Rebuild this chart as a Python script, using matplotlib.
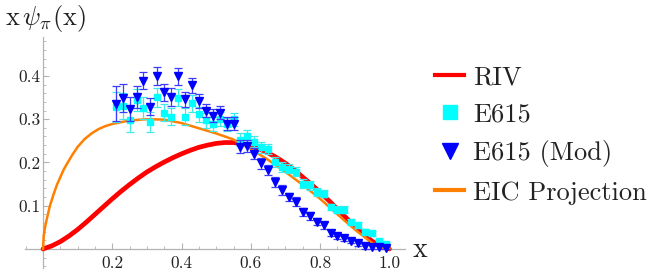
import matplotlib
matplotlib.use("Agg")
import matplotlib.pyplot as plt
from matplotlib.lines import Line2D
from matplotlib.ticker import MultipleLocator, FixedLocator, FuncFormatter

plt.rcParams['mathtext.fontset'] = 'cm'
plt.rcParams['font.family'] = ['cmr10', 'DejaVu Serif']
plt.rcParams['axes.formatter.use_mathtext'] = True

# ---- data ----
x_e615 = [0.21, 0.23, 0.25, 0.27, 0.29, 0.31, 0.33, 0.35, 0.37, 0.39,
          0.41, 0.43, 0.45, 0.47, 0.49, 0.51, 0.53, 0.55, 0.57, 0.59,
          0.61, 0.63, 0.65, 0.67, 0.69, 0.71, 0.73, 0.75, 0.77, 0.79,
          0.81, 0.83, 0.85, 0.87, 0.89, 0.91, 0.93, 0.95, 0.97, 0.99]
y_e615 = [0.329, 0.331, 0.299, 0.345, 0.326, 0.293, 0.351, 0.315, 0.306, 0.350,
          0.306, 0.337, 0.311, 0.297, 0.289, 0.301, 0.288, 0.300, 0.253, 0.262,
          0.248, 0.235, 0.231, 0.201, 0.190, 0.186, 0.179, 0.151, 0.147, 0.132,
          0.128, 0.097, 0.091, 0.091, 0.063, 0.055, 0.040, 0.036, 0.019, 0.012]
err_e615 = [0.035, 0.030, 0.028, 0.025, 0.025, 0.023, 0.022, 0.020, 0.020, 0.020,
            0.020, 0.020, 0.018, 0.018, 0.016, 0.016, 0.015, 0.015, 0.015, 0.014,
            0.013, 0.013, 0.012, 0.012, 0.011, 0.011, 0.010, 0.010, 0.010, 0.009,
            0.009, 0.008, 0.008, 0.008, 0.007, 0.007, 0.006, 0.006, 0.005, 0.005]
y_mod = [0.336, 0.349, 0.324, 0.351, 0.389, 0.329, 0.400, 0.362, 0.351, 0.399,
         0.346, 0.378, 0.343, 0.320, 0.308, 0.315, 0.289, 0.290, 0.236, 0.238,
         0.220, 0.198, 0.182, 0.155, 0.136, 0.120, 0.109, 0.086, 0.076, 0.063,
         0.055, 0.038, 0.030, 0.025, 0.019, 0.013, 0.006, 0.005, 0.004, 0.003]
err_mod = [0.040, 0.033, 0.028, 0.025, 0.020, 0.020, 0.020, 0.020, 0.020, 0.020,
           0.018, 0.018, 0.016, 0.016, 0.015, 0.015, 0.015, 0.015, 0.015, 0.014,
           0.013, 0.012, 0.012, 0.011, 0.011, 0.010, 0.010, 0.009, 0.009, 0.008,
           0.008, 0.007, 0.007, 0.006, 0.006, 0.005, 0.005, 0.004, 0.004, 0.004]

x_riv = [0.0, 0.025, 0.05, 0.075, 0.1, 0.125, 0.15, 0.175, 0.2, 0.225, 0.25,
         0.275, 0.3, 0.325, 0.35, 0.375, 0.4, 0.425, 0.45, 0.475, 0.5, 0.525,
         0.55, 0.575, 0.6, 0.625, 0.65, 0.675, 0.7, 0.725, 0.75, 0.775, 0.8,
         0.825, 0.85, 0.875, 0.9, 0.925, 0.95, 0.975, 1.0]
y_riv = [0.0, 0.007, 0.017, 0.030, 0.045, 0.062, 0.080, 0.098, 0.116, 0.133, 0.149,
         0.164, 0.178, 0.190, 0.201, 0.211, 0.220, 0.228, 0.235, 0.240, 0.244, 0.246,
         0.246, 0.243, 0.238, 0.231, 0.222, 0.211, 0.198, 0.183, 0.166, 0.149, 0.131,
         0.112, 0.092, 0.072, 0.052, 0.034, 0.018, 0.006, 0.0]

x_eic = [0.0, 0.002, 0.006, 0.01, 0.02, 0.03, 0.04, 0.05, 0.06, 0.07, 0.085,
         0.1, 0.12, 0.14, 0.16, 0.18, 0.2, 0.25, 0.3, 0.35, 0.4, 0.45, 0.5,
         0.55, 0.6, 0.65, 0.7, 0.75, 0.8, 0.85, 0.9, 0.95, 0.975, 1.0]
y_eic = [0.0, 0.030, 0.051, 0.066, 0.100, 0.125, 0.148, 0.166, 0.184, 0.198, 0.218,
         0.236, 0.254, 0.267, 0.277, 0.284, 0.289, 0.297, 0.300, 0.299, 0.291, 0.279, 0.267,
         0.253, 0.231, 0.206, 0.178, 0.148, 0.116, 0.080, 0.045, 0.014, 0.004, 0.0]

x_ticks = [0.2, 0.4, 0.6, 0.8, 1.0]
y_ticks = [0.1, 0.2, 0.3, 0.4]
labels = ["RIV", "E615", "E615 (Mod)", "EIC Projection"]

c_red = "#ff0000"
c_cyan = "#00ffff"
c_cyan_e = "#40e8e8"
c_blue = "#0000ff"
c_blue_e = "#3c3cff"
c_orange = "#ff8000"
c_axis = "#b3b3b3"

fig = plt.figure(figsize=(6.51, 2.73), dpi=100)
ax = fig.add_axes([25 / 651, 5 / 273, 380 / 651, 231 / 273])
ax.set_xlim(-0.052, 1.045)
ax.set_ylim(-0.044, 0.49)

ax.plot(x_riv, y_riv, color=c_red, lw=3.4, solid_capstyle='round',
        solid_joinstyle='round', zorder=2)
ax.plot(x_eic, y_eic, color=c_orange, lw=1.8, solid_joinstyle='round', zorder=3)
ax.errorbar(x_e615, y_e615, yerr=err_e615, fmt='s', color=c_cyan, ms=4.6,
            mec=c_cyan, ecolor=c_cyan_e, elinewidth=0.9, capsize=2.8,
            capthick=0.9, zorder=4)
ax.errorbar(x_e615, y_mod, yerr=err_mod, fmt='v', color=c_blue, ms=5.2,
            mec=c_blue, ecolor=c_blue_e, elinewidth=0.9, capsize=2.8,
            capthick=0.9, zorder=5)

# axes in Mathematica style
for s in ['top', 'right']:
    ax.spines[s].set_visible(False)
ax.spines['left'].set_position(('data', 0))
ax.spines['bottom'].set_position(('data', 0))
for s in ['left', 'bottom']:
    ax.spines[s].set_color(c_axis)
    ax.spines[s].set_linewidth(0.9)
    ax.spines[s].set_zorder(1)

ax.xaxis.set_major_locator(FixedLocator(x_ticks))
ax.yaxis.set_major_locator(FixedLocator(y_ticks))
ax.xaxis.set_minor_locator(MultipleLocator(0.05))
ax.yaxis.set_minor_locator(MultipleLocator(0.02))
fmt = FuncFormatter(lambda v, p: "%.1f" % v)
ax.xaxis.set_major_formatter(fmt)
ax.yaxis.set_major_formatter(fmt)
ax.tick_params(which='major', direction='in', length=4, width=0.8,
               color=c_axis, labelsize=12.5, labelcolor='#222222')
ax.tick_params(which='minor', direction='in', length=2.3, width=0.6, color=c_axis)
ax.tick_params(axis='x', which='major', pad=5)
ax.tick_params(axis='y', which='major', pad=1.5)

# axis labels
fig.text(5 / 651, 1 - 18 / 273, r'$\mathrm{x}\,\psi_{\pi}(\mathrm{x})$',
         fontsize=19, ha='left', va='center', color='#222222')
fig.text(413 / 651, 1 - 250 / 273, 'x', fontsize=20, ha='left',
         va='center', color='#222222')

# legend
handles = [
    Line2D([], [], color=c_red, lw=3.0),
    Line2D([], [], ls='none', marker='s', color=c_cyan, ms=10),
    Line2D([], [], ls='none', marker='v', color=c_blue, ms=11),
    Line2D([], [], color=c_orange, lw=3.0),
]
fig.legend(handles, labels, loc='center left',
           bbox_to_anchor=(435 / 651, 1 - 135 / 273), frameon=False,
           fontsize=19, handlelength=1.1, handletextpad=0.35,
           labelspacing=0.52, borderpad=0, borderaxespad=0,
           labelcolor='#222222')

fig.savefig("out.png", dpi=100)
